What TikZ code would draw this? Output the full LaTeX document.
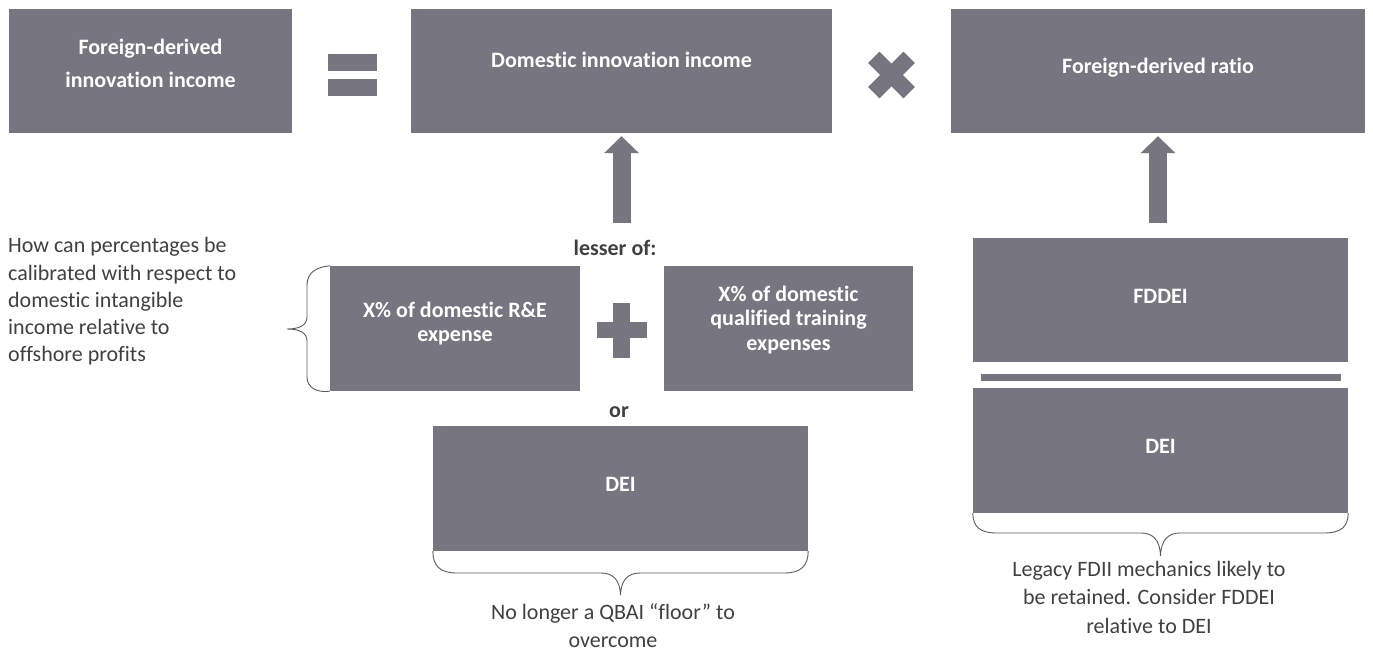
\documentclass[tikz,border=0pt]{standalone}
\usepackage{fontspec}
\setmainfont{Carlito}[Ligatures=NoCommon]
\usetikzlibrary{arrows.meta}
\definecolor{boxgray}{RGB}{118,117,128}
\definecolor{txtgray}{RGB}{64,64,64}
\definecolor{bracegray}{RGB}{90,90,90}
\tikzset{
  box/.style={fill=boxgray, draw=none, inner sep=0pt},
  boxtext/.style={text=white, font=\fontsize{22}{24.4}\selectfont\bfseries, align=center, inner sep=0pt},
  note/.style={text=txtgray, font=\fontsize{22}{27.5}\selectfont, inner sep=0pt},
  darklabel/.style={text=txtgray, font=\fontsize{22}{24.4}\selectfont\bfseries, inner sep=0pt},
  blockarrow/.style={draw=boxgray, line width=18pt, -{Triangle[width=34pt,length=17pt]}},
  bracepath/.style={draw=bracegray, line width=0.9pt},
  sign/.style={fill=boxgray, draw=none}
}
\begin{document}
\begin{tikzpicture}[x=1pt,y=-1pt]
\useasboundingbox (0,0) rectangle (1373,650);
% top row boxes
\node[box, minimum width=283pt, minimum height=124pt] (b1) at (150.5,71) {};
\node[box, minimum width=421pt, minimum height=124pt] (b2) at (621.5,71) {};
\node[box, minimum width=414pt, minimum height=124pt] (b3) at (1158,71) {};
\node[boxtext, font=\fontsize{22}{32.3}\selectfont\bfseries] (t1) at (150.5,63.3) {Foreign-derived\\innovation income};
\node[boxtext] (t2) at (621.5,60.1) {Domestic innovation income};
\node[boxtext] (t3) at (1158,68) {Foreign-derived ratio};
% equal sign
\fill[sign] (328,54) rectangle (377,71);
\fill[sign] (328,79) rectangle (377,96);
% times sign
\fill[sign, rotate around={45:(891.5,75)}] (866.5,67) rectangle (916.5,83);
\fill[sign, rotate around={-45:(891.5,75)}] (866.5,67) rectangle (916.5,83);
% middle row
\node[darklabel] (lesser) at (615,248) {lesser of:};
\node[box, minimum width=250pt, minimum height=125pt] (bre) at (455,328.5) {};
\node[box, minimum width=249pt, minimum height=125pt] (bqt) at (788.5,328.5) {};
\node[boxtext] (tre) at (455,323.8) {X\% of domestic R\&E\\expense};
\node[boxtext] (tqt) at (788.5,319.8) {X\% of domestic\\qualified training\\expenses};
% plus sign
\fill[sign] (597,322) rectangle (647,338);
\fill[sign] (613,303) rectangle (630,358);
\node[darklabel] (or) at (619,411.9) {or};
\node[box, minimum width=375pt, minimum height=125pt] (bdei) at (620.5,488.5) {};
\node[boxtext] (tdei) at (620.5,484.7) {DEI};
% right column
\node[box, minimum width=375pt, minimum height=124pt] (bfd) at (1160.5,300) {};
\node[boxtext] (tfd) at (1160.5,296) {FDDEI};
\node[box, minimum width=360pt, minimum height=7pt] (bar) at (1161,377.5) {};
\node[box, minimum width=375pt, minimum height=125pt] (bdei2) at (1160.5,450.5) {};
\node[boxtext] (tdei2) at (1160.5,446) {DEI};
% arrows
\coordinate (a1s) at (621.5,223);
\coordinate (a2s) at (1158,223);
\draw[blockarrow] (a1s) -- ([yshift=-3pt]b2.south);
\draw[blockarrow] (a2s) -- ([yshift=-3pt]b3.south);
% notes
\node[note, anchor=north west, align=left, font=\fontsize{22}{27.1}\selectfont] (nleft) at (8,237.5) {How can percentages be\\calibrated with respect to\\domestic intangible\\income relative to\\offshore profits};
\node[note, anchor=north, align=center] (nmid) at (613,603.5) {No longer a QBAI “floor” to\\overcome};
\node[note, anchor=north, align=center, font=\fontsize{22}{28.3}\selectfont] (nright) at (1149,561) {Legacy FDII mechanics likely to\\be retained. Consider FDDEI\\relative to DEI};
% braces
\draw[bracepath] (bre.north west) .. controls (316,267) and (307,273) .. (307,285) -- (307,317)
  .. controls (307,325) and (300,329) .. (287,329)
  .. controls (300,329) and (307,333) .. (307,341) -- (307,377)
  .. controls (307,387) and (316,393) .. (bre.south west);
\draw[bracepath] (bdei.south west) .. controls (433,566) and (440,573) .. (457,573) -- (601,573)
  .. controls (613,573) and (620,580) .. (620.5,595)
  .. controls (621,580) and (628,573) .. (640,573) -- (784,573)
  .. controls (801,573) and (808,566) .. (bdei.south east);
\draw[bracepath] (bdei2.south west) .. controls (973,527) and (980,533) .. (997,533) -- (1141,533)
  .. controls (1153,533) and (1160,540) .. (1160.5,556)
  .. controls (1161,540) and (1168,533) .. (1180,533) -- (1324,533)
  .. controls (1341,533) and (1348,527) .. (bdei2.south east);
\end{tikzpicture}
\end{document}
